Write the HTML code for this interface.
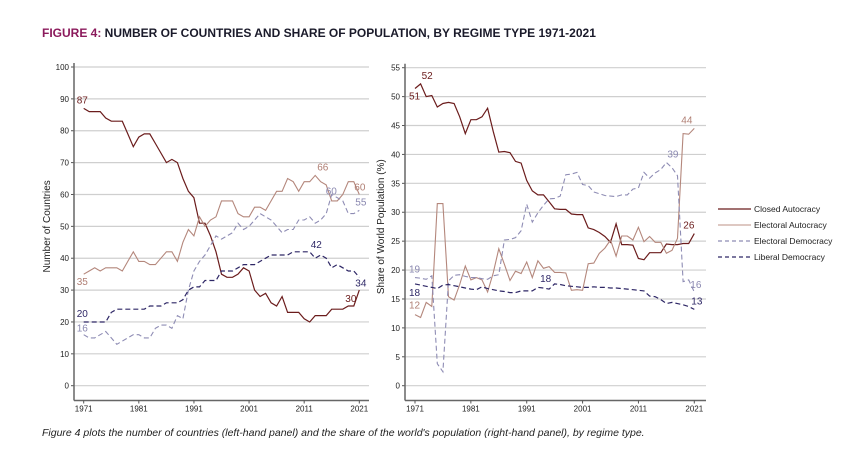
<!DOCTYPE html>
<html><head><meta charset="utf-8"><style>
body{margin:0;background:#fff;width:851px;height:452px;overflow:hidden;font-family:"Liberation Sans",sans-serif}
svg{position:absolute;left:0;top:0}
</style></head><body>
<svg id="c" width="851" height="452"></svg>
<script>
const years=[];for(let y=1971;y<=2021;y++)years.push(y);
const xTickLabels=["1971","1981","1991","2001","2011","2021"];
const leftTicks=[0,10,20,30,40,50,60,70,80,90,100];
const rightTicks=[0,5,10,15,20,25,30,35,40,45,50,55];
const leftClosed=[87,86,86,86,84,83,83,83,79,75,78,79,79,76,73,70,71,70,65,61,59,51,51,47,42,35,34,34,35,37,36,30,28,29,26,25,28,23,23,23,21,20,22,22,22,24,24,24,25,25,30];
const leftElecAut=[35,36,37,36,37,37,37,36,39,42,39,39,38,38,40,42,42,39,45,49,47,53,50,52,53,58,58,58,54,53,53,56,56,55,58,61,61,65,64,61,64,64,66,64,63,58,58,60,64,64,60];
const leftElecDem=[16,15,15,16,17,15,13,14,15,16,16,15,15,18,19,19,18,22,21,30,36,39,41,44,47,46,47,48,51,49,50,52,54,53,52,50,48,49,49,52,52,53,51,52,54,60,59,58,54,54,55];
const leftLibDem=[20,20,20,20,20,23,24,24,24,24,24,24,25,25,25,26,26,26,27,30,31,31,33,33,33,36,36,36,37,38,38,38,39,40,41,41,41,41,42,42,42,42,40,41,40,37,38,37,36,36,34];
const rightClosed=[51.4,52.2,50,50.2,48.2,48.8,49,48.8,46.5,43.6,46,46,46.5,48,44,40.4,40.5,40.3,38.8,38.5,35.5,33.7,33,33,31.8,30.6,30.5,30.5,29.7,29.6,29.6,27.3,27,26.5,25.8,24.8,28,24.4,24.4,24.3,22,21.8,23,23,23,24.5,24.4,24.4,24.6,24.6,26.3];
const rightElecAut=[12.3,11.8,14.4,13.7,31.5,31.5,15.4,14.8,17.5,20.7,18.3,18.7,18.3,16.2,19.5,23.7,21,18.2,19.8,19.4,21.4,18.7,21.6,20.3,20.6,19.6,19.6,19.5,16.5,16.6,16.5,21.1,21.2,22.9,23.8,25.2,22.4,25.9,25.9,25.2,27.4,24.9,25.8,24.8,24.8,22.9,23.4,25.5,43.6,43.5,44.5];
const rightElecDem=[18.7,18.6,18.4,19,3.8,2.4,18.1,19.1,19.2,18.9,18.7,18.7,18.5,18.4,19,19.2,25.2,25.3,25.6,26.8,31.4,28.3,29.9,31.2,32.3,32.4,32.8,36.5,36.6,36.9,34.8,34.6,33.5,33.2,32.9,32.8,32.7,33,33,34,34.2,36.9,35.9,36.8,37.4,38.6,37.7,36.3,18,18.3,16.2];
const rightLibDem=[17.6,17.4,17.2,17,16.8,17.4,17.5,17.3,17.1,16.9,16.7,16.6,17.1,16.8,16.6,16.4,16.3,16.1,16.1,16.4,16.4,16.4,17,16.9,16.7,17.6,17.5,17.3,17.2,17.1,17,17,17.1,17,17,16.9,16.9,16.8,16.7,16.6,16.5,16.4,15.5,15.4,14.9,14.2,14.4,14.2,14,13.7,13.2];
const leftLabels=[["87",0,leftClosed,"#6b1c1c",-7,-5],["35",0,leftElecAut,"#b07f74",-7,11],["20",0,leftLibDem,"#2e2766",-7,-5],["16",0,leftElecDem,"#8a88b0",-7,-3],
 ["66",42,leftElecAut,"#b07f74",2,-5],["60",45,leftElecDem,"#8a88b0",-6,0],["60",50,leftElecAut,"#b07f74",-5,-4],["55",50,leftElecDem,"#8a88b0",-4,-5],["42",41,leftLibDem,"#2e2766",1,-4],["34",50,leftLibDem,"#2e2766",-4,9],["30",50,leftClosed,"#6b1c1c",-14,12]];
const rightLabels=[["51",0,rightClosed,"#6b1c1c",-6,11],["52",1,rightClosed,"#6b1c1c",1,-5],["19",0,rightElecDem,"#8a88b0",-6,-5],["18",0,rightLibDem,"#2e2766",-6,12],["12",0,rightElecAut,"#b07f74",-6,-6],
 ["18",24,rightLibDem,"#2e2766",-9,-7],["44",50,rightElecAut,"#b07f74",-13,-5],["39",45,rightElecDem,"#8a88b0",1,-5],["26",50,rightClosed,"#6b1c1c",-11,-5],["16",50,rightElecDem,"#8a88b0",-4,-4],["13",50,rightLibDem,"#2e2766",-3,-5]];
const svg=document.getElementById('c');const NS="http://www.w3.org/2000/svg";
function mk(t,a,p){const e=document.createElementNS(NS,t);for(const k in a)e.setAttribute(k,a[k]);(p||svg).appendChild(e);return e;}
function panel(cfg){
 const g=mk('g',{});
 
 
 const xS=y=>cfg.x0+(y-1971)*(cfg.x1-cfg.x0)/50;
 const yS=v=>cfg.y0-(v-cfg.ymin)*(cfg.y0-cfg.ytop)/(cfg.ymax-cfg.ymin);
 cfg.ticks.forEach(t=>{
  const l=mk('line',{x1:cfg.axisX,x2:cfg.gridEnd,y1:yS(t),y2:yS(t),stroke:"#cfcfcf","stroke-width":1.2},g);
  
  const tk=mk('line',{x1:cfg.axisX-3,x2:cfg.axisX,y1:yS(t),y2:yS(t),stroke:"#555"},g);
  
  const tx=mk('text',{x:cfg.axisX-5,y:yS(t)+3,"text-anchor":"end","font-size":8,fill:"#222"},g);tx.textContent=t;
  
 });
 const ax=mk('line',{x1:cfg.axisX,x2:cfg.axisX,y1:cfg.ytop-4,y2:cfg.axisY,stroke:"#666","stroke-width":1.5},g);
 
 const bx=mk('line',{x1:cfg.axisX,x2:cfg.gridEnd,y1:cfg.axisY,y2:cfg.axisY,stroke:"#666","stroke-width":1.5},g);
 
 xTickLabels.forEach(s=>{
  const x=xS(+s);
  const tk=mk('line',{x1:x,x2:x,y1:cfg.axisY,y2:cfg.axisY+3,stroke:"#555"},g);
  
  const tx=mk('text',{x:x,y:cfg.axisY+11,"text-anchor":"middle","font-size":8,fill:"#222"},g);tx.textContent=s;
  
 });
 const yt=mk('text',{x:0,y:0,transform:`translate(${cfg.titleX},${(cfg.ytop+cfg.y0)/2}) rotate(-90)`,"text-anchor":"middle","font-size":10,fill:"#222"},g);
 yt.textContent=cfg.title;
 cfg.series.forEach(s=>{
  const d=s.data.map((v,i)=>(i?'L':'M')+xS(years[i]).toFixed(1)+','+yS(v).toFixed(1)).join('');
  const p=mk('path',{d:d,fill:"none",stroke:s.color,"stroke-width":s.w,"stroke-dasharray":s.dash||"none"},g);
  
 });
 cfg.labels.forEach(L=>{
  const t=mk('text',{x:xS(years[L[1]])+L[4],y:yS(L[2][L[1]])+L[5],"font-size":10,fill:L[3]},g);t.textContent=L[0];
  
 });
}
const cA="#6b1c1c",eA="#b4877c",eD="#8e8cb4",lD="#2e2766";
panel({name:'left-panel',x0:83.7,x1:359.3,axisX:74,gridEnd:369,axisY:400.5,y0:385.7,ytop:67,ymin:0,ymax:100,ticks:leftTicks,titleX:50,title:"Number of Countries",labels:leftLabels,
 series:[{name:'closed-autocracy-line',data:leftClosed,color:cA,w:1.2},{name:'electoral-autocracy-line',data:leftElecAut,color:eA,w:1.1},
 {name:'electoral-democracy-line',data:leftElecDem,color:eD,w:1.1,dash:"5,3"},{name:'liberal-democracy-line',data:leftLibDem,color:lD,w:1.2,dash:"5,3"}]});
panel({name:'right-panel',x0:415,x1:694.3,axisX:405,gridEnd:706,axisY:400.5,y0:385.7,ytop:67.7,ymin:0,ymax:55,ticks:rightTicks,titleX:384,title:"Share of World Population (%)",labels:rightLabels,
 series:[{name:'closed-autocracy-line',data:rightClosed,color:cA,w:1.2},{name:'electoral-autocracy-line',data:rightElecAut,color:eA,w:1.1},
 {name:'electoral-democracy-line',data:rightElecDem,color:eD,w:1.1,dash:"5,3"},{name:'liberal-democracy-line',data:rightLibDem,color:lD,w:1.2,dash:"5,3"}]});
const leg=[["Closed Autocracy",cA,null],["Electoral Autocracy","#c9a69d",null],["Electoral Democracy",eD,"4,3"],["Liberal Democracy",lD,"4,3"]];
const lg=mk('g',{});
leg.forEach((e,i)=>{
 const y=209+i*16;
 const l=mk('line',{x1:718,x2:751,y1:y,y2:y,stroke:e[1],"stroke-width":1.3,"stroke-dasharray":e[2]||"none"},lg);
 
 const t=mk('text',{x:754,y:y+3,"font-size":8.5,fill:"#222"},lg);t.textContent=e[0];
 
});
</script>
<div style="position:absolute;left:42px;top:26px;font-size:12px;font-weight:bold;color:#1a1a2a;white-space:nowrap"><span style="color:#8b1a5c">FIGURE 4:</span> NUMBER OF COUNTRIES AND SHARE OF POPULATION, BY REGIME TYPE 1971-2021</div>
<div style="position:absolute;left:42px;top:427px;font-size:10.5px;font-style:italic;color:#222;white-space:nowrap">Figure 4 plots the number of countries (left-hand panel) and the share of the world's population (right-hand panel), by regime type.</div>
</body></html>
